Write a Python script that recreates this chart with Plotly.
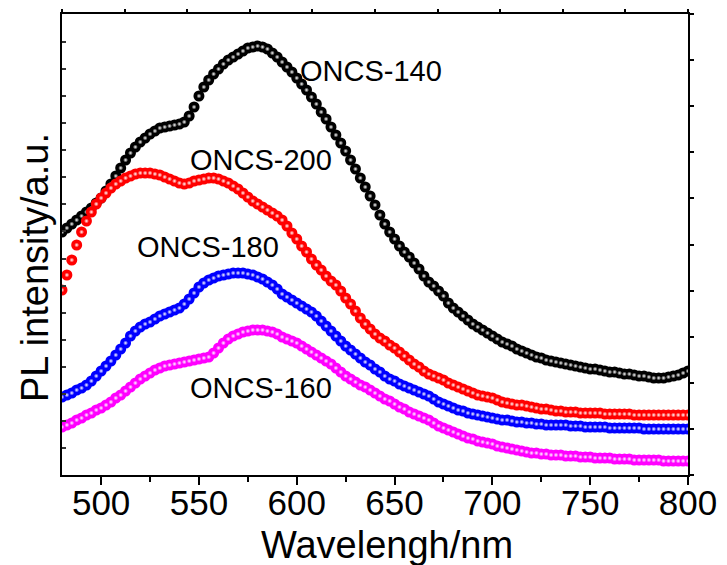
import plotly.graph_objects as go

# Wavelength grid (nm), 2.5 nm step
wavelength = [480 + 2.5 * i for i in range(129)]

oncs_140 = [243, 247, 251, 255, 259, 263, 267, 272, 277, 284, 291, 299, 307, 315, 322, 328, 333, 337, 341, 344,
            347, 348, 349, 350, 351, 353, 359, 368, 379, 388, 395, 401, 406, 411, 415, 418, 421, 424, 427, 428,
            429, 428, 426, 422, 418, 413, 408, 403, 397, 391, 385, 378, 371, 363, 356, 348, 340, 332, 324, 315,
            306, 297, 288, 279, 270, 260, 251, 243, 236, 229, 223, 218, 212, 206, 199, 193, 189, 184, 179, 172,
            167, 163, 159, 155, 151, 148, 145, 142, 139, 136, 133, 131, 129, 126, 124, 122, 120, 118, 117, 115,
            114, 113, 112, 111, 110, 109, 108, 107, 106, 106, 105, 104, 103, 103, 102, 101, 101, 100, 99, 99,
            98, 97, 97, 97, 98, 99, 100, 102, 104]

oncs_200 = [185, 200, 215, 230, 243, 254, 263, 271, 277, 282, 287, 291, 294, 297, 299, 301, 302, 302, 302, 301,
            300, 298, 296, 294, 292, 291, 292, 294, 295, 296, 297, 297, 296, 294, 292, 289, 286, 282, 278, 274,
            271, 268, 265, 262, 259, 255, 249, 242, 236, 229, 223, 216, 210, 205, 199, 194, 190, 184, 177, 171,
            164, 157, 151, 146, 141, 137, 134, 130, 127, 123, 119, 115, 111, 108, 104, 101, 99, 97, 95, 92,
            90, 88, 86, 84, 82, 80, 79, 78, 77, 75, 73, 72, 71, 70, 70, 69, 68, 67, 66, 66,
            65, 64, 64, 63, 63, 63, 62, 62, 62, 62, 62, 61, 61, 61, 61, 61, 61, 60, 60, 60,
            60, 60, 60, 60, 60, 60, 60, 60, 60]

oncs_180 = [78, 80, 82, 85, 87, 90, 94, 99, 104, 109, 114, 120, 126, 132, 139, 144, 148, 151, 153, 156,
            159, 161, 163, 165, 167, 171, 176, 182, 188, 192, 195, 197, 199, 200, 201, 202, 202, 202, 201, 200,
            198, 196, 193, 190, 186, 181, 178, 175, 172, 169, 166, 163, 159, 154, 149, 144, 139, 134, 129, 125,
            121, 117, 113, 110, 106, 103, 99, 96, 94, 91, 89, 87, 85, 83, 81, 79, 76, 73, 71, 69,
            67, 65, 64, 62, 61, 60, 59, 58, 57, 56, 55, 55, 54, 53, 53, 52, 52, 51, 51, 50,
            50, 50, 50, 50, 49, 49, 49, 48, 48, 48, 48, 48, 47, 47, 47, 47, 47, 47, 47, 46,
            46, 46, 46, 46, 46, 46, 46, 46, 46]

oncs_160 = [48, 50, 52, 55, 57, 60, 62, 65, 67, 70, 73, 77, 80, 84, 88, 92, 96, 99, 102, 105,
            107, 109, 110, 111, 112, 113, 114, 115, 116, 117, 118, 122, 127, 132, 136, 139, 141, 143, 144, 145,
            145, 145, 144, 143, 141, 138, 136, 134, 132, 129, 126, 123, 120, 117, 114, 111, 107, 103, 99, 96,
            93, 90, 88, 85, 82, 79, 76, 74, 71, 68, 66, 63, 61, 59, 57, 55, 52, 49, 47, 45,
            43, 41, 39, 37, 36, 34, 33, 32, 31, 29, 28, 27, 26, 25, 24, 23, 22, 22, 21, 21,
            20, 20, 20, 19, 19, 19, 18, 18, 18, 17, 17, 17, 17, 16, 16, 16, 16, 15, 15, 15,
            15, 15, 15, 14, 14, 14, 14, 14, 14]

series_names = ["ONCS-140", "ONCS-200", "ONCS-180", "ONCS-160"]
series_values = [oncs_140, oncs_200, oncs_180, oncs_160]
series_colors = ["#000000", "#ff0000", "#0000ff", "#ff00ff"]

x_tick_vals = [500, 550, 600, 650, 700, 750, 800]

fig = go.Figure()
for name, vals, col in zip(series_names, series_values, series_colors):
    # sphere body
    fig.add_trace(go.Scatter(
        x=wavelength, y=vals, mode="markers", name=name, showlegend=False,
        marker=dict(size=11, color=col, symbol="circle", line=dict(width=0)),
    ))
    # highlight
    fig.add_trace(go.Scatter(
        x=wavelength, y=vals, mode="markers", name=name, showlegend=False, hoverinfo="skip",
        marker=dict(size=5, color=col, symbol="circle",
                    gradient=dict(type="radial", color="#ffffff"), line=dict(width=0)),
    ))

# frame axes (top/right) with their own tick spacing
fig.add_trace(go.Scatter(x=[], y=[], xaxis="x2", yaxis="y2", showlegend=False, hoverinfo="skip"))

label_font = dict(family="Liberation Sans, Arial, sans-serif", size=29, color="#000000")
label_pos = {"ONCS-140": (638, 404), "ONCS-200": (581.7, 315), "ONCS-180": (554.6, 228), "ONCS-160": (581.7, 87)}
for name in series_names:
    lx, ly = label_pos[name]
    fig.add_annotation(x=lx, y=ly, text=name, showarrow=False, font=label_font, xanchor="center", yanchor="middle")

font_main = "Liberation Sans, Arial, sans-serif"

# axis titles as paper annotations
fig.add_annotation(xref="paper", yref="paper", x=(387 - 62) / 626, y=-(545 - 475) / 461, text="Wavelengh/nm",
                   showarrow=False, font=dict(family=font_main, size=38, color="black"),
                   xanchor="center", yanchor="middle")
fig.add_annotation(xref="paper", yref="paper", x=-(62 - 35) / 626, y=(475 - 268) / 461, text="PL intensity/a.u.",
                   showarrow=False, textangle=-90, font=dict(family=font_main, size=38, color="black"),
                   xanchor="center", yanchor="middle")

fig.update_layout(
    width=727, height=565,
    margin=dict(l=62, r=39, t=14, b=90, autoexpand=False),
    paper_bgcolor="white", plot_bgcolor="white",
    xaxis=dict(range=[480, 800], tickvals=x_tick_vals, ticks="outside", ticklen=8, tickwidth=1.5,
               tickcolor="black", showline=True, linecolor="black", linewidth=2, showgrid=False, zeroline=False,
               tickfont=dict(family=font_main, size=35, color="black"), automargin=False,
               ticklabelstandoff=-12,
               minor=dict(ticks="outside", ticklen=5, tickwidth=1.5, tickcolor="black", dtick=25, tick0=475)),
    yaxis=dict(range=[0, 461], tick0=0, dtick=27.06, ticks="inside", ticklen=4, tickwidth=1.5,
               tickcolor="#333333", showline=True, linecolor="black", linewidth=2, showgrid=False, zeroline=False,
               showticklabels=False, automargin=False),
    xaxis2=dict(overlaying="x", side="top", range=[0, 10], tick0=0, dtick=1, ticks="outside", ticklen=3,
                tickwidth=1.5, tickcolor="black", showline=True, linecolor="black", linewidth=2,
                showgrid=False, zeroline=False, showticklabels=False, anchor="y", automargin=False),
    yaxis2=dict(overlaying="y", side="right", range=[0, 10], tick0=0, dtick=1, ticks="outside", ticklen=4,
                tickwidth=1.5, tickcolor="black", showline=True, linecolor="black", linewidth=2,
                showgrid=False, zeroline=False, showticklabels=False, anchor="x", automargin=False),
)

fig.write_html("out.html")
